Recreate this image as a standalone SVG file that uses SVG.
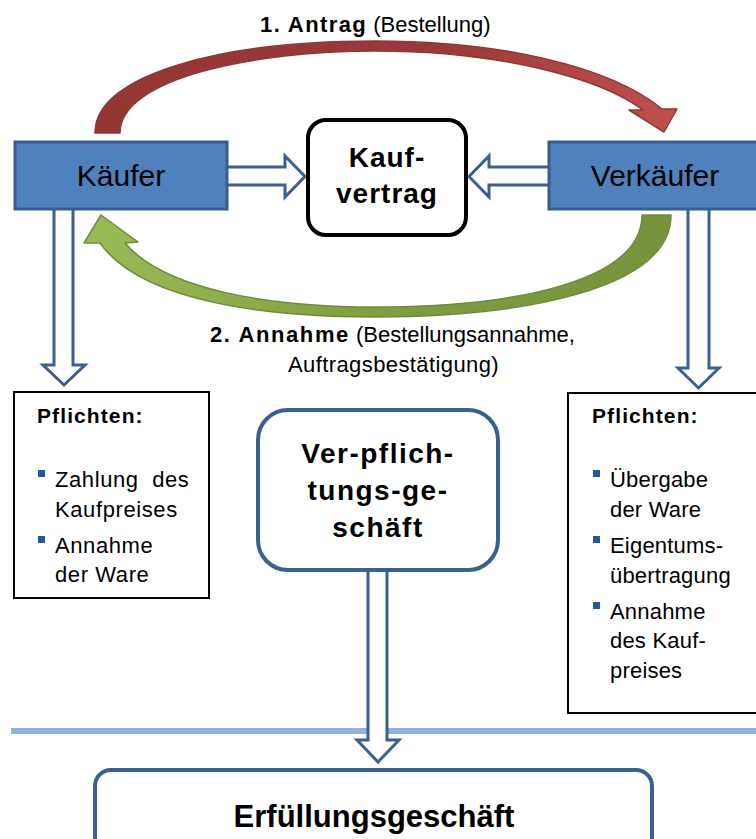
<svg xmlns="http://www.w3.org/2000/svg" width="756" height="839" viewBox="0 0 756 839">
<defs>
<linearGradient id="red" x1="0" y1="0" x2="1" y2="0">
<stop offset="0" stop-color="#943634"/>
<stop offset="0.6" stop-color="#9a3a38"/>
<stop offset="1" stop-color="#c0504d"/>
</linearGradient>
<linearGradient id="green" x1="0" y1="0" x2="1" y2="0">
<stop offset="0" stop-color="#9bbb59"/>
<stop offset="0.5" stop-color="#7f9e40"/>
<stop offset="1" stop-color="#76933c"/>
</linearGradient>
<style>
.blk{fill:#4f81bd;stroke:#385d8a;stroke-width:3}
.conn{fill:#fff;stroke:#3a6090;stroke-width:3;stroke-linejoin:miter}
.t{font-family:"Liberation Sans",Arial,sans-serif;fill:#000}
.b{font-weight:bold}
.bul{fill:#1f5b9c}
.pbox{fill:#fff;stroke:#000;stroke-width:2}
</style>
</defs>
<rect width="756" height="839" fill="#fff"/>

<line x1="11" y1="731" x2="756" y2="731" stroke="#8db3e2" stroke-width="6"/>

<g id="connectors">
<path d="M95,133 C95,72 230,41 375,41 C500,41 610,66 662,109 L677,109 L664,132 L629,110 L643,110 C600,78 500,51 375,51 C255,51 120,78 120,133 Z" fill="url(#red)" stroke="#8c3836" stroke-width="1.5" stroke-linejoin="round"/>
<path d="M671,215 C671,290 520,317 374,317 C260,317 140,300 100,243 L84,243 L101,215 L138,242 L125,243 C165,290 270,307 374,307 C520,307 642,280 642,215 Z" fill="url(#green)" stroke="#71893f" stroke-width="1.5" stroke-linejoin="round"/>
<path class="conn" d="M227,167 H285 V156 L305,176.5 L285,197 V185 H227"/>
<path class="conn" d="M549,167 H489 V156 L469,176.5 L489,197 V185 H549"/>
<path class="conn" d="M54,210 V365 H43 L64,385 L85,365 H73 V210"/>
<path class="conn" d="M688,210 V368 H678 L698.5,388 L719,368 H709 V210"/>
<path class="conn" d="M368,571 V740 H357 L378,762 L399,740 H387 V571"/>
</g>

<g id="kaeufer">
<rect class="blk" x="15" y="142" width="212" height="67"/>
<text class="t" x="121" y="186" font-size="30" text-anchor="middle">Käufer</text>
</g>

<g id="verkaeufer">
<rect class="blk" x="549" y="142" width="215" height="67"/>
<text class="t" x="655" y="186" font-size="30" text-anchor="middle">Verkäufer</text>
</g>

<g id="kaufvertrag">
<rect x="308" y="120" width="158" height="115" rx="18" fill="#fff" stroke="#000" stroke-width="4"/>
<text class="t b" x="387" y="167" font-size="28" text-anchor="middle" letter-spacing="1">Kauf-</text>
<text class="t b" x="387" y="203" font-size="28" text-anchor="middle" letter-spacing="1">vertrag</text>
</g>

<g id="label-antrag">
<text class="t" x="260" y="32" font-size="22"><tspan class="b" letter-spacing="1.4">1. Antrag</tspan> (Bestellung)</text>
</g>

<g id="label-annahme">
<text class="t" x="210" y="342" font-size="22"><tspan class="b" letter-spacing="1.6">2. Annahme</tspan> (Bestellungsannahme,</text>
<text class="t" x="288" y="372" font-size="22" letter-spacing="0.4">Auftragsbestätigung)</text>
</g>

<g id="pflichten-kaeufer">
<rect class="pbox" x="14" y="392" width="195" height="206"/>
<text class="t b" x="37" y="423" font-size="21" letter-spacing="1.1">Pflichten:</text>
<rect class="bul" x="38" y="470" width="7" height="7"/>
<text class="t" x="55" y="487" font-size="22" letter-spacing="0.6" xml:space="preserve">Zahlung  des</text>
<text class="t" x="55" y="517" font-size="22" letter-spacing="0.6">Kaufpreises</text>
<rect class="bul" x="38" y="536" width="7" height="7"/>
<text class="t" x="55" y="553" font-size="22" letter-spacing="0.6">Annahme</text>
<text class="t" x="55" y="582" font-size="22" letter-spacing="0.6">der Ware</text>
</g>

<g id="pflichten-verkaeufer">
<rect class="pbox" x="568" y="393" width="200" height="320"/>
<text class="t b" x="592" y="423" font-size="21" letter-spacing="1.1">Pflichten:</text>
<rect class="bul" x="593" y="470" width="7" height="7"/>
<text class="t" x="610" y="487" font-size="22" letter-spacing="0.2">Übergabe</text>
<text class="t" x="610" y="517" font-size="22" letter-spacing="0.2">der Ware</text>
<rect class="bul" x="593" y="536" width="7" height="7"/>
<text class="t" x="610" y="553" font-size="22" letter-spacing="0.2">Eigentums-</text>
<text class="t" x="610" y="583" font-size="22" letter-spacing="0.2">übertragung</text>
<rect class="bul" x="593" y="602" width="7" height="7"/>
<text class="t" x="610" y="619" font-size="22" letter-spacing="0.2">Annahme</text>
<text class="t" x="610" y="648" font-size="22" letter-spacing="0.2">des Kauf-</text>
<text class="t" x="610" y="678" font-size="22" letter-spacing="0.2">preises</text>
</g>

<g id="verpflichtungsgeschaeft">
<rect x="258" y="410" width="240" height="160" rx="30" fill="#fff" stroke="#3a6090" stroke-width="4"/>
<text class="t b" x="378" y="463" font-size="28" text-anchor="middle" letter-spacing="1.5">Ver-pflich-</text>
<text class="t b" x="378" y="500" font-size="28" text-anchor="middle" letter-spacing="1.5">tungs-ge-</text>
<text class="t b" x="378" y="537" font-size="28" text-anchor="middle" letter-spacing="1.5">schäft</text>
</g>

<g id="erfuellungsgeschaeft">
<rect x="95" y="770" width="557" height="110" rx="16" fill="#fff" stroke="#3a6090" stroke-width="4"/>
<text class="t b" x="374" y="827" font-size="31" text-anchor="middle">Erfüllungsgeschäft</text>
</g>
</svg>
